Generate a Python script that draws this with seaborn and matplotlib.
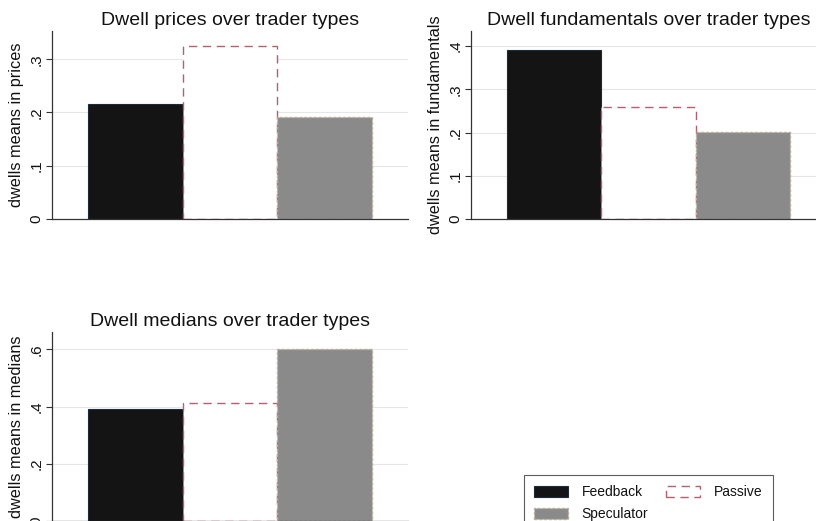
import numpy as np
import pandas as pd
import matplotlib
matplotlib.use("Agg")
import matplotlib.pyplot as plt
from matplotlib.patches import Patch
import seaborn as sns

# Datos
trader_types = ["Feedback", "Passive", "Speculator"]
dwell_prices = [0.215, 0.324, 0.192]
dwell_fundamentals = [0.390, 0.260, 0.201]
dwell_medians = [0.390, 0.413, 0.600]

panel_titles = ["Dwell prices over trader types",
                "Dwell fundamentals over trader types",
                "Dwell medians over trader types"]
panel_ylabels = ["dwells means in prices",
                 "dwells means in fundamentals",
                 "dwells means in medians"]
panel_ticks = [[0, 0.1, 0.2, 0.3],
               [0, 0.1, 0.2, 0.3, 0.4],
               [0, 0.2, 0.4, 0.6]]
panel_ticklabels = [["0", ".1", ".2", ".3"],
                    ["0", ".1", ".2", ".3", ".4"],
                    ["0", ".2", ".4", ".6"]]
panel_ylim = [0.353, 0.435, 0.661]

sns.set_style("white")
plt.rcParams["font.family"] = ["Liberation Sans", "DejaVu Sans"]
plt.rcParams["text.color"] = "#111111"
plt.rcParams["axes.labelcolor"] = "#111111"
plt.rcParams["ytick.color"] = "#111111"

W, H = 816, 521
fig = plt.figure(figsize=(W / 100, H / 100), dpi=100)

# Posiciones en pixeles: izquierda, derecha, arriba, abajo
boxes = [(52, 408, 31, 219), (471, 826, 31, 219), (52, 408, 332, 521)]

styles = {
    "Feedback": dict(facecolor="#141414", edgecolor="#1c2a3a", linestyle="-", linewidth=0.8),
    "Passive": dict(facecolor="white", edgecolor="#b5606e", linestyle=(0, (6, 4)), linewidth=1.0),
    "Speculator": dict(facecolor="#8a8a8a", edgecolor="#b8b09a", linestyle=(0, (2, 1.5)), linewidth=1.0),
}

for values, title, ylab, ticks, tlabels, ytop, (l, r, t, b) in zip(
        [dwell_prices, dwell_fundamentals, dwell_medians], panel_titles, panel_ylabels,
        panel_ticks, panel_ticklabels, panel_ylim, boxes):
    ax = fig.add_axes([l / W, (H - b) / H, (r - l) / W, (b - t) / H])
    df = pd.DataFrame({"grupo": ["all"] * 3, "type": trader_types, "value": values})
    sns.barplot(data=df, x="grupo", y="value", hue="type", hue_order=trader_types,
                width=0.795, ax=ax, legend=False, saturation=1)
    for cont, name in zip(ax.containers, trader_types):
        for p in cont.patches:
            p.set(**styles[name])
    ax.set_xlim(-0.5, 0.5)
    ax.set_ylim(0, ytop)
    ax.set_yticks(ticks)
    ax.set_yticklabels(tlabels, rotation=90, va="center", fontsize=11)
    ax.set_xticks([])
    ax.set_xlabel("")
    ax.set_ylabel(ylab, fontsize=11.7, labelpad=4)
    ax.set_title(title, fontsize=14, pad=4, color="#111111")
    for y in ticks[1:]:
        ax.axhline(y, color="#e6e6e6", lw=0.8, zorder=0)
    ax.set_axisbelow(True)
    for s in ["top", "right"]:
        ax.spines[s].set_visible(False)
    for s in ["left", "bottom"]:
        ax.spines[s].set_color("#333333")
        ax.spines[s].set_linewidth(0.9)
    ax.tick_params(axis="y", left=True, length=4, width=0.8, color="#333333", pad=2)

handles = [Patch(label=n, **styles[n]) for n in ["Feedback", "Speculator", "Passive"]]
leg = fig.legend(handles=handles, loc="upper left", bbox_to_anchor=(524 / W, (H - 475) / H),
                 ncol=2, fontsize=10, frameon=True, fancybox=False, edgecolor="#333333",
                 handlelength=2.4, handleheight=0.8, columnspacing=1.3, handletextpad=1.0,
                 borderpad=0.75, labelspacing=0.55, borderaxespad=0)
leg.get_frame().set_linewidth(0.8)

fig.savefig("out.png", dpi=100)
